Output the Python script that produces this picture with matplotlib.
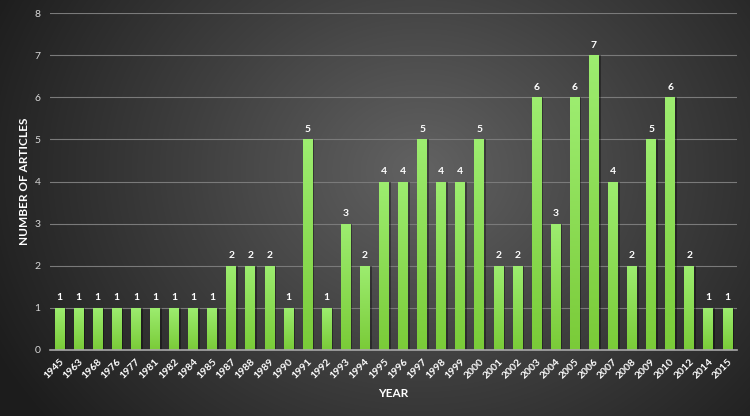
import matplotlib
matplotlib.use("Agg")
import matplotlib.pyplot as plt
import numpy as np
from matplotlib.colors import LinearSegmentedColormap

years = ["1945","1963","1968","1976","1977","1981","1982","1984","1985","1987","1988","1989",
         "1990","1991","1992","1993","1994","1995","1996","1997","1998","1999","2000","2001",
         "2002","2003","2004","2005","2006","2007","2008","2009","2010","2012","2014","2015"]
counts = [1,1,1,1,1,1,1,1,1,2,2,2,1,5,1,3,2,4,4,5,4,4,5,2,2,6,3,6,7,4,2,5,6,2,1,1]

plt.rcParams['font.family'] = ['Lato', 'DejaVu Sans']

fig = plt.figure(figsize=(7.5, 4.16), dpi=100)

# radial gradient background
bg = fig.add_axes([0, 0, 1, 1], zorder=0)
W, H = 750, 416
yy, xx = np.mgrid[0:H, 0:W]
cx, cy = 420, 170
r = np.sqrt(((xx - cx) / 1.0) ** 2 + ((yy - cy) / 0.85) ** 2)
r = np.clip(r / 480.0, 0, 1)
bgcmap = LinearSegmentedColormap.from_list("bg", ["#626262", "#3e3e3e", "#1c1c1c"])
bg.imshow(r, cmap=bgcmap, aspect='auto', extent=[0, 1, 0, 1], origin='upper')
bg.set_axis_off()

ax = fig.add_axes([0.0667, 0.1587, 0.916, 0.810], zorder=1)
ax.patch.set_alpha(0)
x = np.arange(len(years))

gcmap = LinearSegmentedColormap.from_list("g", ["#7acb38", "#9ded70"])
grad = np.linspace(0, 1, 256).reshape(-1, 1)
# shadows
ax.bar(x + 0.09, counts, width=0.52, color="#000000", alpha=0.35, zorder=2)
bars = ax.bar(x, counts, width=0.52, color="#8ada55", zorder=3)
for b, v in zip(bars, counts):
    im = ax.imshow(grad, cmap=gcmap, aspect='auto', origin='lower',
                   extent=[b.get_x(), b.get_x() + b.get_width(), 0, v], zorder=3)
    im.set_clip_path(b)
    ax.text(b.get_x() + b.get_width() / 2, v + 0.13, str(v), ha='center', va='bottom',
            color='white', fontsize=7.5, fontweight='bold', zorder=4)

ax.set_xlim(-0.5, len(years) - 0.5)
ax.set_ylim(0, 8)
ax.set_yticks(range(0, 9))
ax.yaxis.grid(True, color="#7a7a7a", linewidth=0.8, zorder=1)
ax.set_axisbelow(True)
for s in ['top', 'right', 'left']:
    ax.spines[s].set_visible(False)
ax.spines['bottom'].set_color('#a8a8a8')
ax.spines['bottom'].set_linewidth(1.2)
ax.spines['bottom'].set_zorder(5)
ax.tick_params(axis='both', length=0)
ax.tick_params(axis='y', colors='#d8d8d8', labelsize=7.5, pad=7)
ax.set_xticks(x)
ax.set_xticklabels(years, rotation=45, ha='right', rotation_mode='anchor',
                   color='white', fontsize=7.5, fontweight='bold')
ax.tick_params(axis='x', pad=5)
ax.set_ylabel("NUMBER OF ARTICLES", color='white', fontsize=8.5, fontweight='bold')
ax.yaxis.set_label_coords(-0.029, 0.5)
ax.set_xlabel("YEAR", color='white', fontsize=8.5, fontweight='bold')
ax.xaxis.set_label_coords(0.5, -0.113)

fig.savefig("out.png", dpi=100)
